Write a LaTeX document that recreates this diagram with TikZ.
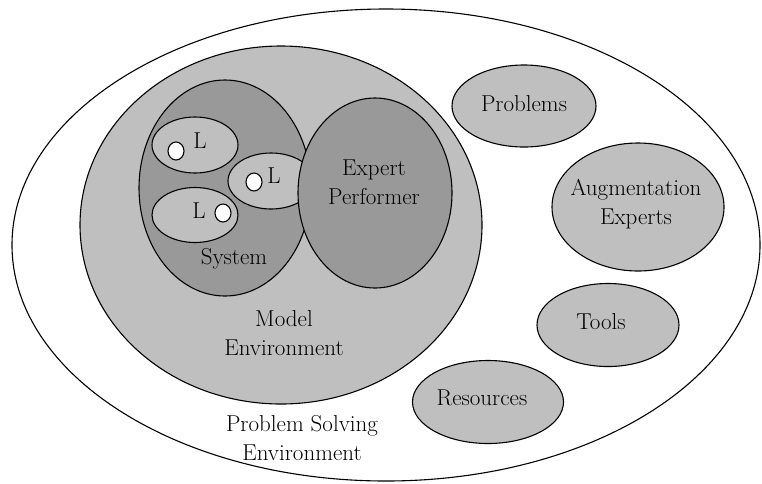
\documentclass[tikz,border=0pt]{standalone}
\usetikzlibrary{shapes.geometric}

\definecolor{litegray}{gray}{0.75}
\definecolor{darkgray}{gray}{0.6}

\tikzset{
  every picture/.append style={x=1pt, y=-1pt},
  blob/.style={ellipse, draw, line width=1.1pt, inner sep=0pt},
  lite/.style={blob, fill=litegray},
  dark/.style={blob, fill=darkgray},
  hole/.style={blob, fill=white, minimum width=16pt, minimum height=18pt},
  lbl/.style={font=\fontsize{23}{29}\selectfont, align=center, inner sep=0pt},
}

\begin{document}
\begin{tikzpicture}
  \useasboundingbox (0,0) rectangle (762,483);
  % regions
  \node[blob, fill=white, minimum width=748pt, minimum height=472pt] (pse) at (386,245) {};
  \node[lite, minimum width=402pt, minimum height=358pt] (model) at (281,225) {};
  \node[dark, minimum width=172pt, minimum height=216pt] (sys) at (225,188) {};
  \node[lite, minimum width=86pt, minimum height=56pt] (loop1) at (195,145) {};
  \node[lite, minimum width=86pt, minimum height=56pt] (loop2) at (271,181) {};
  \node[lite, minimum width=86pt, minimum height=55pt] (loop3) at (195,215) {};
  \node[hole] (dot1) at (176,151) {};
  \node[hole] (dot2) at (254,182) {};
  \node[hole] (dot3) at (223,213) {};
  \node[dark, minimum width=154pt, minimum height=190pt] (expert) at (375,193) {};
  % outside the model
  \node[lite, minimum width=144pt, minimum height=82pt] (prob) at (524,106) {};
  \node[lite, minimum width=172pt, minimum height=128pt] (aug) at (638,207) {};
  \node[lite, minimum width=142pt, minimum height=83pt] (tools) at (608,325) {};
  \node[lite, minimum width=151pt, minimum height=83pt] (res) at (488,402) {};
  % labels
  \node[lbl] (l1) at (200,141) {L};
  \node[lbl] (l2) at (274,176) {L};
  \node[lbl] (l3) at (199,211) {L};
  \node[lbl] (sysname) at (234,259) {System};
  \node[lbl] (expname) at (374,182) {Expert\\Performer};
  \node[lbl] (modname) at (284,333) {Model\\Environment};
  \node[lbl] (psename) at (302,438) {Problem Solving\\Environment};
  \node[lbl] (probname) at (524,104) {Problems};
  \node[lbl] (augname) at (636,204) {Augmentation\\Experts};
  \node[lbl] (toolname) at (601,322) {Tools};
  \node[lbl] (resname) at (482,398) {Resources};
\end{tikzpicture}
\end{document}
